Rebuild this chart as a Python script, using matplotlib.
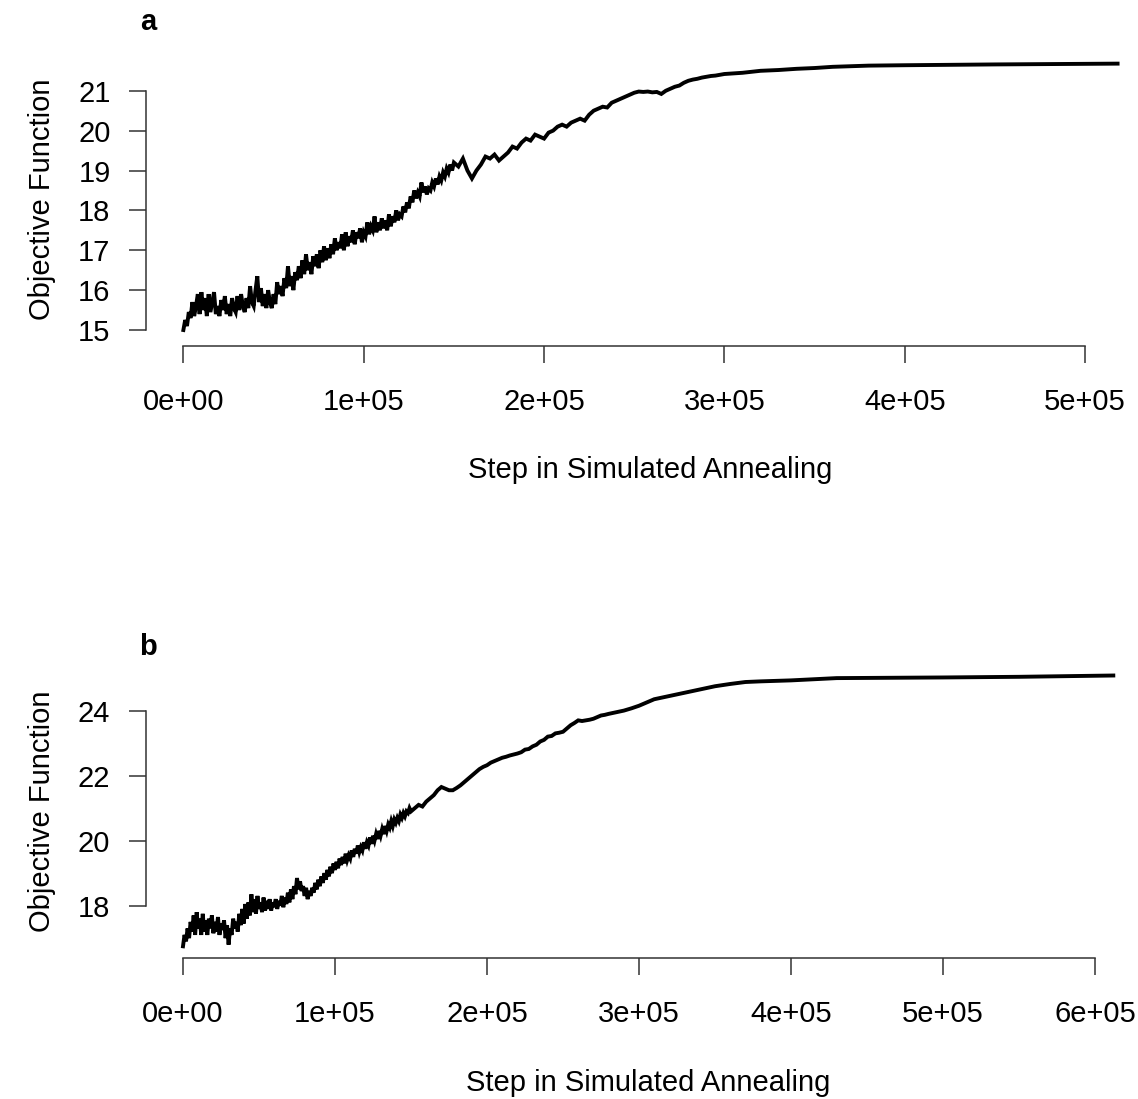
import numpy as np
import matplotlib
matplotlib.use('Agg')
import matplotlib.pyplot as plt

plt.rcParams['font.family'] = ['Liberation Sans', 'DejaVu Sans']

# panel a: step (thousands) and objective value
steps_a = (list(range(0, 151))
           + [152.5, 155, 157.5, 160, 162.5, 165, 167.5, 170, 172.5, 175, 177.5, 180,
              182.5, 185, 187.5, 190, 192.5, 195, 197.5, 200, 202.5, 205, 207.5, 210,
              212.5, 215, 217.5, 220, 222.5, 225, 227.5, 230, 232.5, 235, 237.5, 240,
              242.5, 245, 247.5, 250, 252.5, 255, 257.5, 260, 262.5, 265, 267.5, 270,
              272.5, 275, 277.5, 280, 282.5, 285, 287.5, 290, 292.5, 295, 297.5, 300,
              310, 320, 330, 340, 350, 360, 380, 400, 450, 518])
obj_a = [15.0, 15.25, 15.1, 15.45, 15.3, 15.7, 15.35, 15.6, 15.9, 15.4, 15.95,
         15.5, 15.8, 15.35, 15.9, 15.45, 15.7, 15.95, 15.4, 15.6, 15.35,
         15.75, 15.5, 15.85, 15.4, 15.65, 15.35, 15.8, 15.55, 15.45, 15.85,
         15.5, 15.9, 15.6, 15.45, 15.8, 15.55, 16.1, 15.7, 15.6, 16.0,
         16.35, 15.7, 16.05, 15.6, 15.9, 15.55, 16.0, 15.7, 15.55, 15.9,
         15.65, 16.2, 15.9, 16.1, 15.85, 16.3, 16.05, 16.6, 16.1, 16.35,
         16.0, 16.45, 16.25, 16.6, 16.3, 16.75, 16.4, 16.9, 16.5, 16.7,
         16.4, 16.85, 16.6, 16.9, 16.55, 17.0, 16.7, 17.1, 16.75, 17.05,
         16.8, 17.15, 16.9, 17.3, 17.0, 17.2, 17.05, 17.4, 17.0, 17.45,
         17.1, 17.35, 17.2, 17.5, 17.15, 17.45, 17.3, 17.55, 17.2, 17.45,
         17.35, 17.7, 17.4, 17.6, 17.5, 17.85, 17.45, 17.7, 17.5, 17.8,
         17.55, 17.75, 17.5, 17.9, 17.6, 17.85, 17.7, 18.0, 17.75, 17.9,
         17.85, 18.1, 17.95, 18.2, 18.05, 18.35, 18.2, 18.5, 18.3, 18.45,
         18.35, 18.7, 18.45, 18.6, 18.4, 18.55, 18.5, 18.7, 18.6, 18.8,
         18.65, 18.85, 18.75, 18.95, 18.85, 19.05, 18.95, 19.15, 19.0, 19.2,
         19.1, 19.3, 19.0, 18.8, 19.0, 19.15, 19.35, 19.3, 19.4, 19.25, 19.35, 19.45,
         19.6, 19.55, 19.7, 19.8, 19.75, 19.9, 19.85, 19.8, 19.95, 20.0, 20.1, 20.15,
         20.1, 20.2, 20.25, 20.3, 20.25, 20.4, 20.5, 20.55, 20.6, 20.58, 20.7, 20.75,
         20.8, 20.85, 20.9, 20.95, 20.98, 20.97, 20.98, 20.96, 20.97, 20.92, 21.0, 21.05,
         21.1, 21.13, 21.2, 21.25, 21.28, 21.3, 21.33, 21.35, 21.37, 21.38, 21.4, 21.42,
         21.45, 21.5, 21.52, 21.55, 21.57, 21.6, 21.63, 21.64, 21.66, 21.68]

# panel b
steps_b = (list(range(0, 151))
           + [152.5, 155, 157.5, 160, 162.5, 165, 167.5, 170, 172.5, 175, 177.5, 180,
              182.5, 185, 187.5, 190, 192.5, 195, 197.5, 200, 202.5, 205, 207.5, 210,
              212.5, 215, 217.5, 220, 222.5, 225, 227.5, 230, 232.5, 235, 237.5, 240,
              242.5, 245, 247.5, 250, 252.5, 255, 257.5, 260, 262.5, 265, 267.5, 270,
              272.5, 275, 277.5, 280, 285, 290, 295, 300,
              310, 320, 330, 340, 350, 360, 370, 380, 400, 430, 500, 550, 612])
obj_b = [16.75, 17.1, 16.9, 17.3, 17.0, 17.5, 17.2, 17.7, 17.1, 17.8, 17.3,
         17.6, 17.1, 17.75, 17.2, 17.55, 17.1, 17.6, 17.3, 17.7, 17.15,
         17.5, 17.2, 17.65, 17.1, 17.45, 17.25, 17.55, 17.0, 17.4, 16.8,
         17.3, 17.1, 17.6, 17.3, 17.5, 17.2, 17.75, 17.4, 17.9, 17.45,
         18.05, 17.6, 18.1, 17.7, 18.35, 17.8, 18.2, 17.75, 18.3, 17.9,
         18.1, 17.8, 18.25, 17.85, 18.15, 17.9, 18.2, 17.85, 18.1, 17.95,
         18.2, 17.9, 18.15, 18.0, 18.3, 17.95, 18.25, 18.05, 18.4, 18.1,
         18.5, 18.2, 18.6, 18.35, 18.85, 18.5, 18.75, 18.45, 18.6, 18.3,
         18.55, 18.2, 18.45, 18.3, 18.55, 18.4, 18.7, 18.5, 18.8, 18.6,
         18.9, 18.7, 19.0, 18.8, 19.1, 18.9, 19.2, 19.0, 19.3, 19.1,
         19.35, 19.15, 19.45, 19.25, 19.5, 19.3, 19.6, 19.4, 19.55, 19.45,
         19.7, 19.5, 19.75, 19.6, 19.85, 19.65, 19.8, 19.7, 19.95, 19.75,
         19.95, 19.85, 20.1, 19.9, 20.15, 20.0, 20.2, 20.05, 20.3, 20.15,
         20.35, 20.2, 20.45, 20.3, 20.5, 20.4, 20.6, 20.45, 20.65, 20.55,
         20.7, 20.6, 20.8, 20.7, 20.85, 20.75, 20.9, 20.85, 21.0, 20.9,
         21.0, 21.1, 21.05, 21.2, 21.3, 21.4, 21.55, 21.65, 21.6, 21.55, 21.55, 21.62,
         21.7, 21.8, 21.9, 22.0, 22.1, 22.2, 22.27, 22.32, 22.4, 22.45, 22.5, 22.55,
         22.58, 22.62, 22.65, 22.68, 22.72, 22.8, 22.82, 22.9, 22.95, 23.05, 23.1, 23.2,
         23.22, 23.3, 23.32, 23.35, 23.45, 23.55, 23.62, 23.7, 23.68, 23.7, 23.72, 23.75,
         23.8, 23.85, 23.87, 23.9, 23.95, 24.0, 24.07, 24.15,
         24.35, 24.45, 24.55, 24.65, 24.75, 24.82, 24.88, 24.9, 24.93, 25.0, 25.02, 25.04, 25.08]

xticks_a = [0, 1e5, 2e5, 3e5, 4e5, 5e5]
xticks_b = [0, 1e5, 2e5, 3e5, 4e5, 5e5, 6e5]
xlabels_a = ['0e+00', '1e+05', '2e+05', '3e+05', '4e+05', '5e+05']
xlabels_b = ['0e+00', '1e+05', '2e+05', '3e+05', '4e+05', '5e+05', '6e+05']
yticks_a = [15, 16, 17, 18, 19, 20, 21]
yticks_b = [18, 20, 22, 24]

fig = plt.figure(figsize=(11.38, 10.99), dpi=100)
ax_a = fig.add_axes([0.1283, 0.6854, 0.8866, 0.2665])
ax_b = fig.add_axes([0.1281, 0.1283, 0.8829, 0.2671])


def style(ax, x, y, xt, xl, yt, xlim, ylim):
    ax.plot(np.array(x) * 1000, y, color='black', lw=2.8, solid_joinstyle='miter')
    ax.set_xlim(*xlim)
    ax.set_ylim(*ylim)
    ax.set_xticks(xt)
    ax.set_xticklabels(xl)
    ax.set_yticks(yt)
    ax.set_yticklabels([str(v) for v in yt])
    for s in ['top', 'right']:
        ax.spines[s].set_visible(False)
    ax.spines['bottom'].set_bounds(xt[0], xt[-1])
    ax.spines['left'].set_bounds(yt[0], yt[-1])
    for s in ['bottom', 'left']:
        ax.spines[s].set_linewidth(1.1)
        ax.spines[s].set_color('#333333')
    ax.tick_params(axis='both', length=12.5, width=1.1, color='#333333', labelsize=21)
    ax.tick_params(axis='x', pad=18)
    ax.tick_params(axis='y', pad=13)
    ax.set_xlabel('Step in Simulated Annealing', fontsize=21, labelpad=29)
    ax.set_ylabel('Objective Function', fontsize=21, labelpad=16)
    ax.patch.set_alpha(0)


style(ax_a, steps_a, obj_a, xticks_a, xlabels_a, yticks_a, (-20720, 538720), (14.606, 21.95))
style(ax_b, steps_b, obj_b, xticks_b, xlabels_b, yticks_b, (-24480, 636480), (16.39, 25.42))

fig.text(148 / 1138, 1 - 22 / 1099, 'a', fontsize=21, fontweight='bold', ha='center', va='center')
fig.text(148 / 1138, 1 - 647 / 1099, 'b', fontsize=21, fontweight='bold', ha='center', va='center')

fig.savefig('out.png', dpi=100)
